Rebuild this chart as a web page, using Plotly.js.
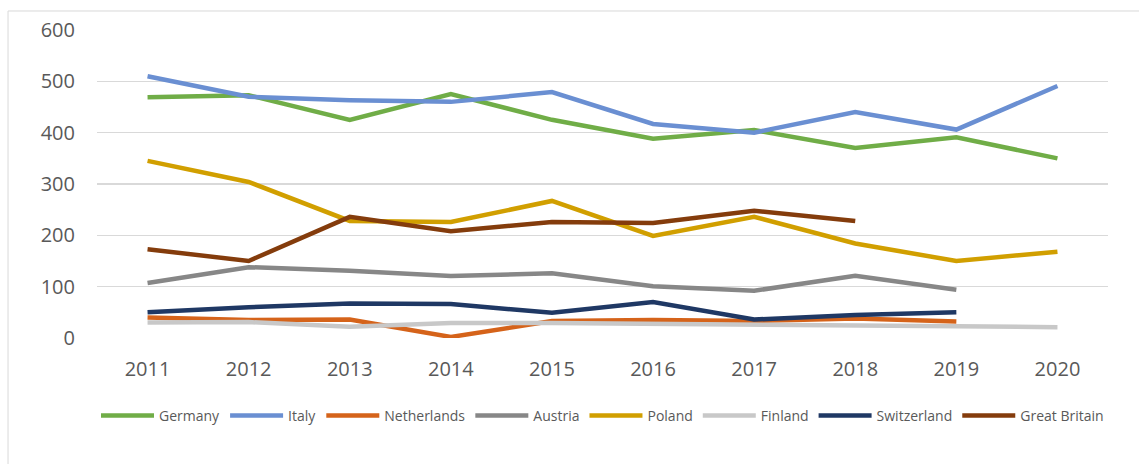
<!DOCTYPE html>
<html>
<head>
<meta charset="utf-8">
<script src="https://cdn.plot.ly/plotly-3.0.1.min.js"></script>
<style>
  html, body { margin: 0; padding: 0; background: #fff; }
  #chart { width: 1139px; height: 464px; }
</style>
</head>
<body>
<div id="chart"></div>
<script>
const years = ['2011','2012','2013','2014','2015','2016','2017','2018','2019','2020'];
const germany     = [469, 473, 425, 475, 425, 388, 405, 370, 391, 350];
const italy       = [510, 470, 463, 460, 479, 417, 400, 440, 406, 491];
const netherlands = [40, 35, 36, 2, 33, 35, 33, 38, 32, null];
const austria     = [107, 138, 131, 121, 126, 101, 92, 121, 94, null];
const poland      = [345, 304, 228, 226, 267, 199, 236, 184, 150, 168];
const finland     = [30, 31, 22, 29, 29, 28, 25, 24, 23, 21];
const switzerland = [50, 60, 67, 66, 49, 70, 36, 45, 50, null];
const greatBritain= [173, 150, 236, 208, 226, 224, 248, 228, null, null];
const yTicks = [0, 100, 200, 300, 400, 500, 600];

const series = [
  ['Germany', germany, '#70AD47'],
  ['Italy', italy, '#6A8FD2'],
  ['Netherlands', netherlands, '#D5631A'],
  ['Austria', austria, '#878787'],
  ['Poland', poland, '#D19F00'],
  ['Finland', finland, '#C8C8C8'],
  ['Switzerland', switzerland, '#1F3864'],
  ['Great Britain', greatBritain, '#843C0C']
];

const traces = series.map(([name, vals, color]) => ({
  type: 'scatter', mode: 'lines', name: name,
  x: years, y: vals,
  line: {color: color, width: 4.5},
  connectgaps: false,
  hoverinfo: 'x+y+name'
}));

const layout = {
  width: 1139, height: 464,
  margin: {l: 97, r: 31, t: 30, b: 126},
  paper_bgcolor: '#ffffff', plot_bgcolor: '#ffffff',
  font: {family: 'Open Sans, sans-serif', color: '#595959'},
  showlegend: true,
  legend: {
    orientation: 'h', x: 0.5, xanchor: 'center', y: -0.253, yanchor: 'middle',
    font: {size: 14, color: '#595959'}, traceorder: 'normal', itemwidth: 53
  },
  xaxis: {
    type: 'category', range: [-0.5, 9.5], showgrid: false, zeroline: false, showline: false,
    ticks: '', tickfont: {size: 20, color: '#595959'}, ticklabelstandoff: 17,
    fixedrange: true
  },
  yaxis: {
    range: [0, 600], tickvals: yTicks, showgrid: true, gridcolor: '#D9D9D9', gridwidth: 1.5,
    zeroline: false, showline: false, ticks: '',
    tickfont: {size: 20, color: '#595959'}, ticklabelstandoff: 21,
    fixedrange: true
  },
  shapes: [
    {type: 'line', xref: 'paper', yref: 'paper', x0: -0.088, x1: 1.1, y0: 1.0617, y1: 1.0617,
     line: {color: '#D9D9D9', width: 1}},
    {type: 'line', xref: 'paper', yref: 'paper', x0: -0.088, x1: -0.088, y0: 1.0617, y1: -0.5,
     line: {color: '#D9D9D9', width: 1}}
  ]
};

Plotly.newPlot('chart', traces, layout, {displayModeBar: false, staticPlot: true});
</script>
</body>
</html>
